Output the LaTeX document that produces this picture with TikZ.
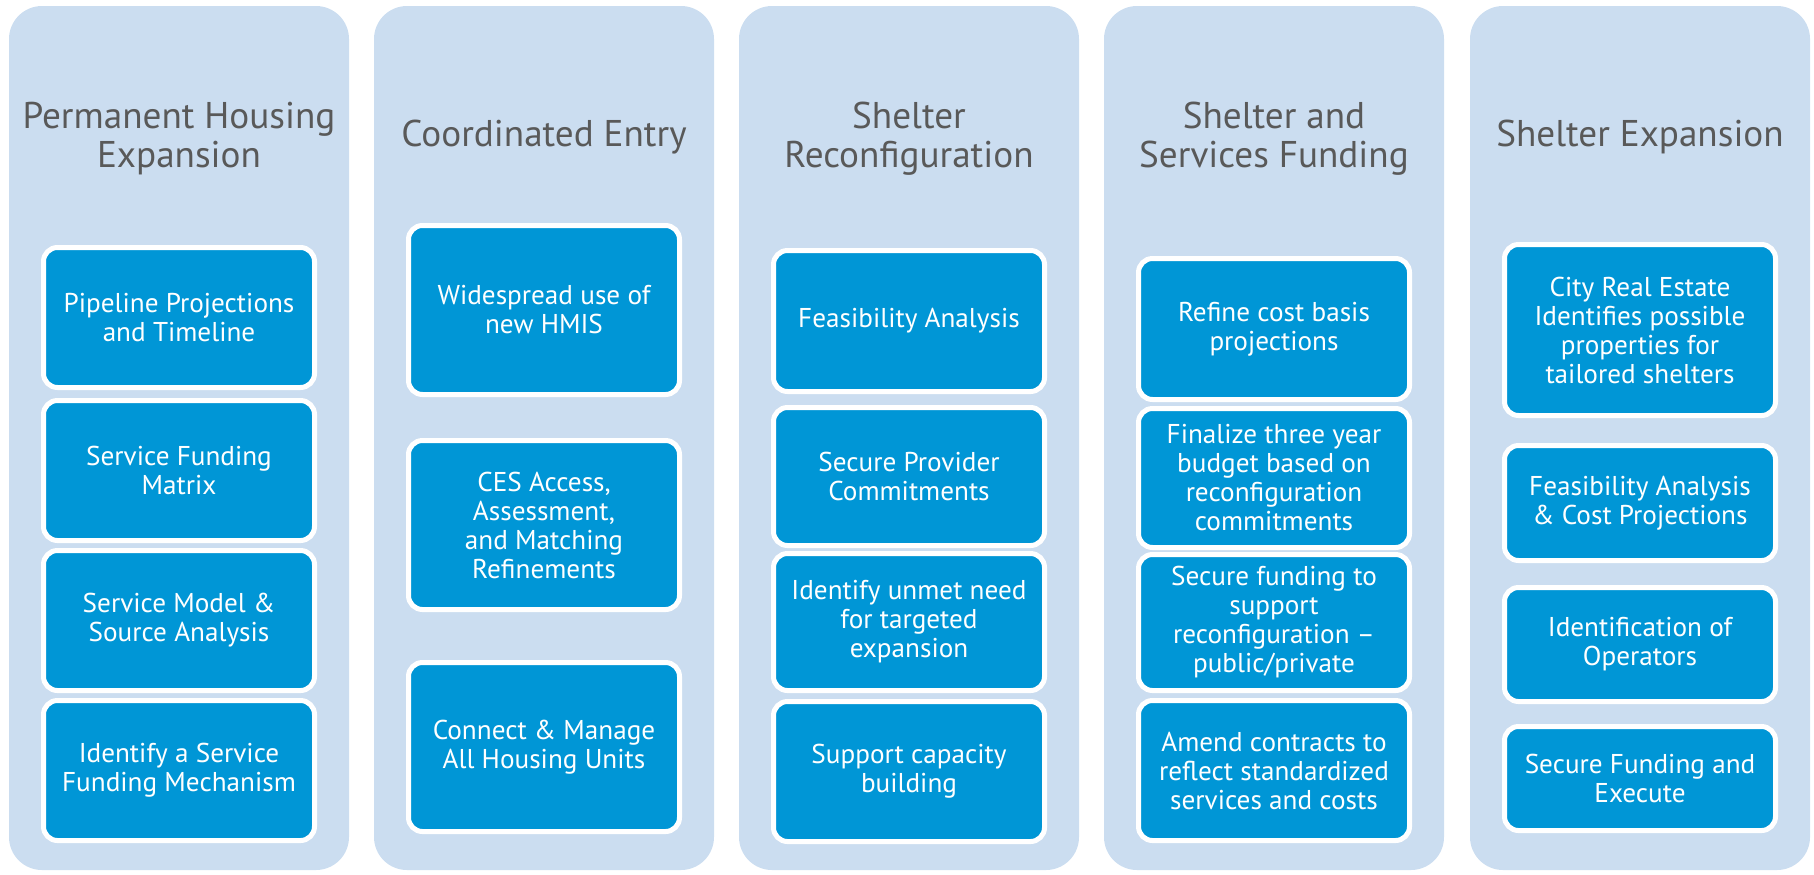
\documentclass[tikz,border=0pt]{standalone}
\usepackage{fontspec}
\setmainfont{PT Sans}
\definecolor{colbg}{RGB}{203,221,240}
\definecolor{boxblue}{RGB}{0,150,214}
\definecolor{ttlgray}{RGB}{89,89,89}
\tikzset{
  colbox/.style={fill=colbg, draw=none, rounded corners=16.5pt, minimum width=170pt, minimum height=432pt, inner sep=0pt},
  ttl/.style={text=ttlgray, align=center, font=\fontsize{18.6}{19.5}\selectfont, inner sep=0pt},
  bx/.style={fill=boxblue, draw=white, line width=2.5pt, rounded corners=7pt, minimum width=135.5pt, text=white, align=center, font=\fontsize{13.6}{14.5}\selectfont, inner sep=0pt}
}
\begin{document}
\begin{tikzpicture}[x=0.5pt,y=-0.5pt]
\useasboundingbox (0,0) rectangle (1814,874);
% columns
\node[colbox] (c1) at (179,438) {};
\node[colbox] (c2) at (544,438) {};
\node[colbox] (c3) at (909,438) {};
\node[colbox] (c4) at (1274,438) {};
\node[colbox] (c5) at (1640,438) {};
% titles
\node[ttl] (t1) at (179,139) {Permanent Housing\\Expansion};
\node[ttl] (t2) at (544,137) {Coordinated Entry};
\node[ttl] (t3) at (909,139) {Shelter\\Reconfiguration};
\node[ttl] (t4) at (1274,139) {Shelter and\\Services Funding};
\node[ttl] (t5) at (1640,137) {Shelter Expansion};
% column 1
\node[bx, minimum height=70pt] (a1) at (179,317.5) {Pipeline Projections\\and Timeline};
\node[bx, minimum height=70pt] (a2) at (179,470.5) {Service Funding\\Matrix};
\node[bx, minimum height=70pt] (a3) at (179,620.5) {Service Model \&\\Source Analysis};
\node[bx, minimum height=70pt] (a4) at (179,770.5) {Identify a Service\\Funding Mechanism};
% column 2
\node[bx, minimum height=84.5pt] (b1) at (544,310) {Widespread use of\\new HMIS};
\node[bx, minimum height=84.5pt] (b2) at (544,525) {CES Access,\\Assessment,\\and Matching\\Refinements};
\node[bx, minimum height=84.5pt] (b3) at (544,747) {Connect \& Manage\\All Housing Units};
% column 3
\node[bx, minimum height=70.5pt] (d1) at (909,321) {Feasibility Analysis};
\node[bx, minimum height=69pt] (d2) at (909,476.5) {Secure Provider\\Commitments};
\node[bx, minimum height=68.5pt] (d3) at (909,622) {Identify unmet need\\for targeted\\expansion};
\node[bx, minimum height=70pt] (d4) at (909,771.5) {Support capacity\\building};
% column 4
\node[bx, minimum height=70.5pt] (e1) at (1274,329) {Refine cost basis\\projections};
\node[bx, minimum height=69.5pt] (e2) at (1274,478) {Finalize three year\\budget based on\\reconfiguration\\commitments};
\node[bx, minimum height=68pt] (e3) at (1274,622.5) {Secure funding to\\support\\reconfiguration --\\public/private};
\node[bx, minimum height=70pt] (e4) at (1274,770.5) {Amend contracts to\\reflect standardized\\services and costs};
% column 5
\node[bx, minimum height=85.5pt] (f1) at (1640,330) {City Real Estate\\Identifies possible\\properties for\\tailored shelters};
\node[bx, minimum height=57.5pt] (f2) at (1640,503) {Feasibility Analysis\\\& Cost Projections};
\node[bx, minimum height=57pt] (f3) at (1640,644.5) {Identification of\\Operators};
\node[bx, minimum height=52pt] (f4) at (1640,778.5) {Secure Funding and\\Execute};
\end{tikzpicture}
\end{document}
